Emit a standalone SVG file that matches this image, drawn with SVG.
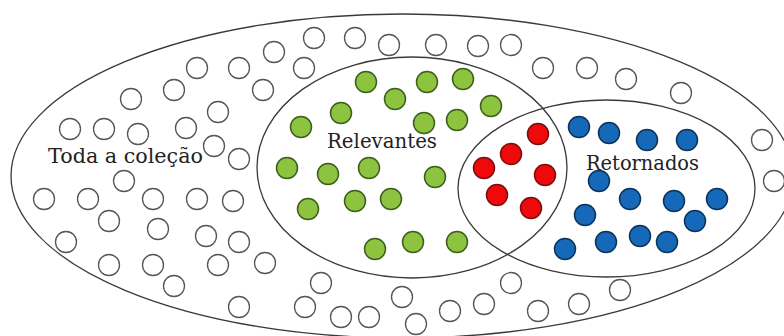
<svg xmlns="http://www.w3.org/2000/svg" width="784" height="336" viewBox="0 0 784 336">
<defs>
<style>
.set{fill:none;stroke:#3a3a3a;stroke-width:1.3}
.h{fill:#fff;stroke:#555;stroke-width:1.3}
.g{fill:#8cc43f;stroke:#3d5e1c;stroke-width:1.5}
.r{fill:#ee0a0a;stroke:#7a0d0d;stroke-width:1.5}
.b{fill:#1668b8;stroke:#0b335c;stroke-width:1.5}
text{font-family:"DejaVu Serif","Liberation Serif",serif;font-size:20px;fill:#222}
</style>
<circle id="c" r="10.5"/>
</defs>
<rect width="784" height="336" fill="#fff"/>
<g id="sets">
<ellipse id="collection" class="set" cx="402.3" cy="176" rx="391.3" ry="162"/>
<ellipse id="relevantes" class="set" cx="412" cy="167.5" rx="155" ry="110.5"/>
<ellipse id="retornados" class="set" cx="606.5" cy="188.5" rx="148.5" ry="88.5"/>
</g>
<g id="hollow" class="h">
<use href="#c" x="197" y="68"/><use href="#c" x="239" y="68"/><use href="#c" x="174" y="90"/><use href="#c" x="263" y="90"/>
<use href="#c" x="131" y="99"/><use href="#c" x="218" y="112"/><use href="#c" x="70" y="129"/><use href="#c" x="104" y="129"/>
<use href="#c" x="138" y="134"/><use href="#c" x="186" y="128"/><use href="#c" x="214" y="146"/><use href="#c" x="239" y="159"/>
<use href="#c" x="274" y="52"/><use href="#c" x="314" y="38"/><use href="#c" x="355" y="38"/><use href="#c" x="389" y="45"/>
<use href="#c" x="436" y="45"/><use href="#c" x="478" y="46"/><use href="#c" x="511" y="45"/><use href="#c" x="304" y="68"/>
<use href="#c" x="543" y="68"/><use href="#c" x="587" y="68"/><use href="#c" x="626" y="79"/><use href="#c" x="681" y="93"/>
<use href="#c" x="762" y="140"/><use href="#c" x="774" y="181"/>
<use href="#c" x="124" y="181"/><use href="#c" x="44" y="199"/><use href="#c" x="88" y="199"/><use href="#c" x="153" y="199"/>
<use href="#c" x="197" y="199"/><use href="#c" x="233" y="201"/><use href="#c" x="109" y="221"/><use href="#c" x="158" y="229"/>
<use href="#c" x="206" y="236"/><use href="#c" x="239" y="242"/><use href="#c" x="66" y="242"/><use href="#c" x="109" y="265"/>
<use href="#c" x="153" y="265"/><use href="#c" x="218" y="265"/><use href="#c" x="265" y="263"/><use href="#c" x="174" y="286"/>
<use href="#c" x="239" y="307"/>
<use href="#c" x="321" y="283"/><use href="#c" x="305" y="307"/><use href="#c" x="341" y="317"/><use href="#c" x="369" y="317"/>
<use href="#c" x="402" y="297"/><use href="#c" x="416" y="324"/><use href="#c" x="450" y="311"/><use href="#c" x="484" y="304"/>
<use href="#c" x="511" y="283"/><use href="#c" x="620" y="290"/><use href="#c" x="579" y="304"/><use href="#c" x="538" y="311"/>
</g>
<g id="green" class="g">
<use href="#c" x="366" y="82"/><use href="#c" x="427" y="82"/><use href="#c" x="463" y="79"/><use href="#c" x="395" y="99"/>
<use href="#c" x="341" y="113"/><use href="#c" x="424" y="123"/><use href="#c" x="457" y="120"/><use href="#c" x="491" y="106"/>
<use href="#c" x="301" y="127"/><use href="#c" x="287" y="168"/><use href="#c" x="328" y="174"/><use href="#c" x="369" y="168"/>
<use href="#c" x="435" y="177"/><use href="#c" x="308" y="209"/><use href="#c" x="355" y="201"/><use href="#c" x="391" y="199"/>
<use href="#c" x="375" y="249"/><use href="#c" x="413" y="242"/><use href="#c" x="457" y="242"/>
</g>
<g id="red" class="r">
<use href="#c" x="538" y="134"/><use href="#c" x="511" y="154"/><use href="#c" x="484" y="168"/>
<use href="#c" x="545" y="175"/><use href="#c" x="497" y="195"/><use href="#c" x="531" y="208"/>
</g>
<g id="blue" class="b">
<use href="#c" x="579" y="127"/><use href="#c" x="609" y="133"/><use href="#c" x="647" y="140"/><use href="#c" x="687" y="140"/>
<use href="#c" x="599" y="181"/><use href="#c" x="630" y="199"/><use href="#c" x="674" y="201"/><use href="#c" x="717" y="199"/>
<use href="#c" x="585" y="215"/><use href="#c" x="695" y="221"/><use href="#c" x="565" y="249"/><use href="#c" x="606" y="242"/>
<use href="#c" x="640" y="236"/><use href="#c" x="667" y="242"/>
</g>
<g id="labels">
<text x="48" y="163" textLength="155" lengthAdjust="spacingAndGlyphs">Toda a coleção</text>
<text x="327" y="148" textLength="110" lengthAdjust="spacingAndGlyphs">Relevantes</text>
<text x="586" y="170" textLength="113" lengthAdjust="spacingAndGlyphs">Retornados</text>
</g>
</svg>
